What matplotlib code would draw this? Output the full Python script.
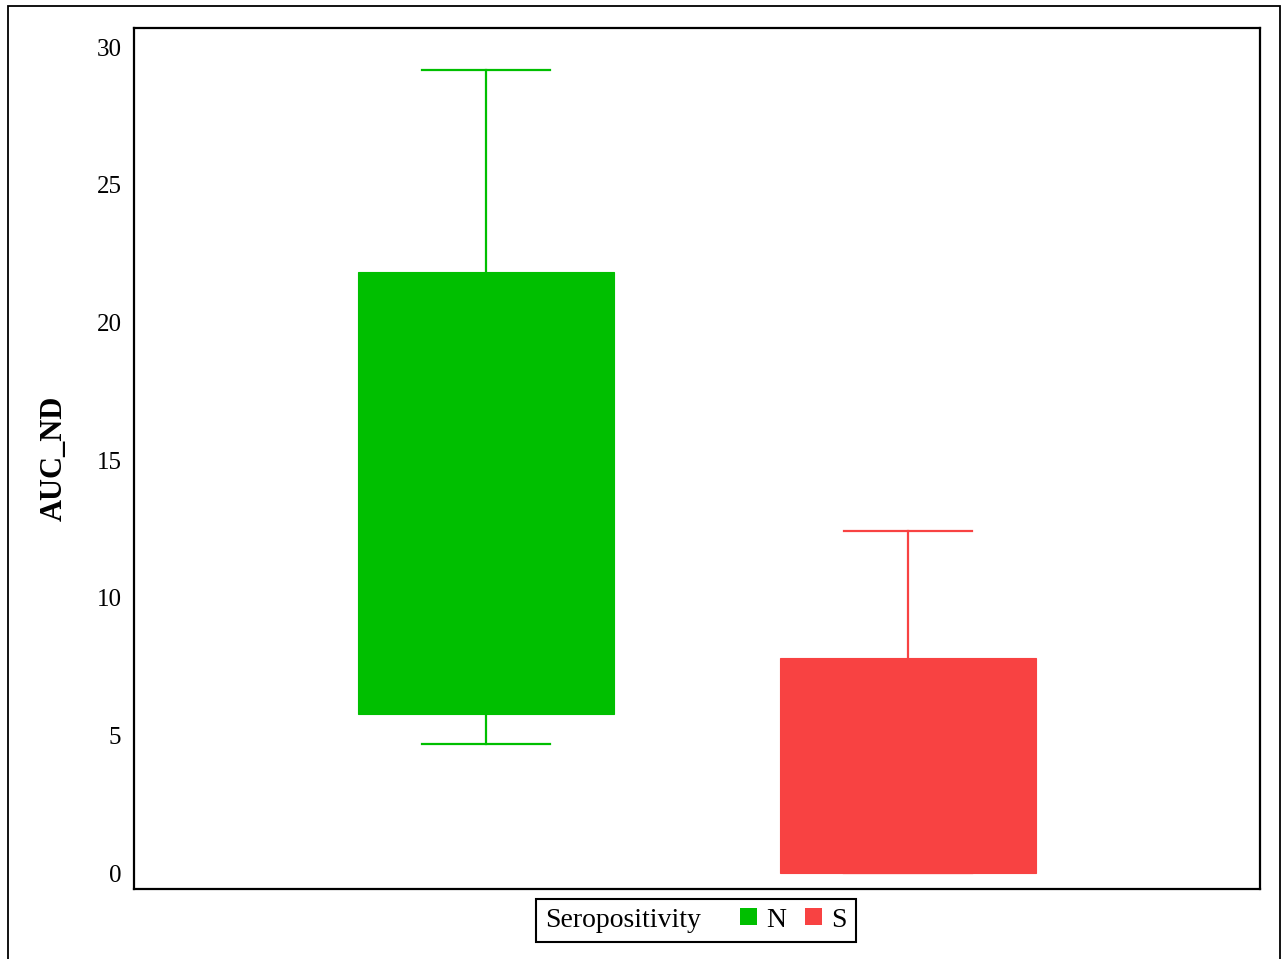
import numpy as np
import matplotlib
matplotlib.use("Agg")
import matplotlib.pyplot as plt
from matplotlib.patches import Rectangle
from matplotlib.offsetbox import (AnchoredOffsetbox, HPacker, TextArea,
                                  DrawingArea)

plt.rcParams['font.family'] = ['Liberation Serif', 'DejaVu Serif']

# Box-plot summary statistics of AUC_ND by serostatus
groups = ["N", "S"]
q1 = [5.78, 0.0]
q3 = [21.83, 7.81]
whisker_low = [4.69, 0.0]
whisker_high = [29.17, 12.42]
colors = ["#00BF00", "#F84242"]
legend_title = "Seropositivity"
y_ticks = [0, 5, 10, 15, 20, 25, 30]

fig = plt.figure(figsize=(12.85, 9.59), dpi=100)
ax = fig.add_axes([0.10428, 0.0730, 0.98054 - 0.10428, 0.97080 - 0.0730])

stats = []
for g, a, b, lo, hi in zip(groups, q1, q3, whisker_low, whisker_high):
    stats.append(dict(label=g, q1=a, q3=b, whislo=lo, whishi=hi,
                      med=np.nan, fliers=[]))

positions = [1, 2]
res = ax.bxp(stats, positions=positions, widths=0.605, patch_artist=True,
             showfliers=False, capwidths=0.303,
             medianprops=dict(visible=False))

for i, c in enumerate(colors):
    res['boxes'][i].set_facecolor(c)
    res['boxes'][i].set_edgecolor(c)
    res['boxes'][i].set_linewidth(0.8)
    res['boxes'][i].set_zorder(3)
    for ln in res['whiskers'][2 * i:2 * i + 2] + res['caps'][2 * i:2 * i + 2]:
        ln.set_color(c)
        ln.set_linewidth(1.6)
        ln.set_zorder(2)

ax.set_xlim(0.166, 2.834)
ax.set_ylim(-0.58, 30.69)
ax.set_yticks(y_ticks)
ax.set_yticklabels([str(t) for t in y_ticks])
ax.set_xticks([])
ax.tick_params(axis='y', length=0, pad=9, labelsize=18)
for sp in ax.spines.values():
    sp.set_linewidth(1.6)
    sp.set_color('black')

ax.set_ylabel("AUC_ND", fontsize=22, fontweight='bold', labelpad=20)

# Legend: title inline, followed by coloured squares
tp = dict(fontsize=20, family='Liberation Serif')
entries = []
for g, c in zip(groups, colors):
    da = DrawingArea(12.2, 13.5)
    da.add_artist(Rectangle((0, 1.3), 12.2, 12.2, facecolor=c,
                            edgecolor='none'))
    entries.append(HPacker(children=[da, TextArea(g, textprops=tp)],
                           sep=6.5, pad=0, align="baseline"))
swatches = HPacker(children=entries, sep=13.7, pad=0, align="baseline")
row = HPacker(children=[TextArea(legend_title, textprops=tp), swatches],
              sep=28, pad=0, align="baseline")
box = AnchoredOffsetbox(loc='center', child=row, pad=0.32, borderpad=0,
                        frameon=True, prop=dict(size=20),
                        bbox_to_anchor=(696 / 1285, 1 - 920.5 / 959),
                        bbox_transform=fig.transFigure)
box.patch.set_boxstyle("square", pad=0)
box.patch.set_linewidth(1.5)
box.patch.set_edgecolor('black')
fig.add_artist(box)

# Outer frame around the figure
frame = Rectangle((8 / 1285, -0.05), 1272 / 1285, 1.05 - 6 / 959,
                  transform=fig.transFigure, fill=False, edgecolor='black',
                  linewidth=1.3, clip_on=False)
fig.add_artist(frame)

fig.savefig("out.png", dpi=100)
